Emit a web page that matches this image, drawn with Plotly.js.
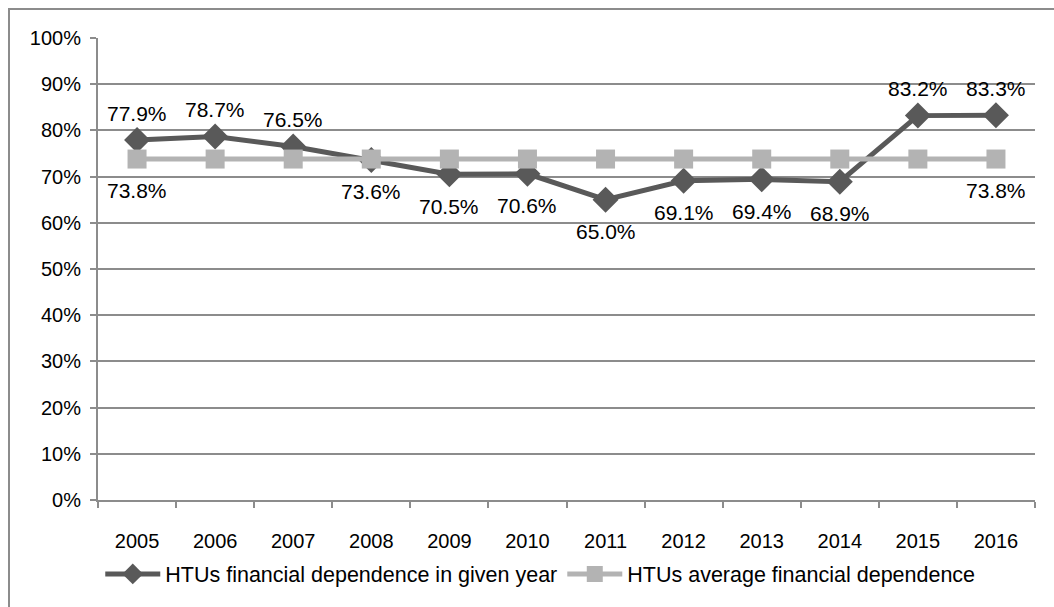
<!DOCTYPE html>
<html>
<head>
<meta charset="utf-8">
<script src="https://cdn.plot.ly/plotly-3.0.1.min.js"></script>
<style>
  html, body { margin: 0; padding: 0; background: #fff; overflow: hidden; }
  #wrap { position: relative; width: 1054px; height: 607px; }
  #frame { position: absolute; left: 8px; top: 8px; width: 1200px; height: 800px;
           border-left: 2px solid #8c8c8c; border-top: 2px solid #8c8c8c; pointer-events: none; }
  #chart { position: absolute; left: 0; top: 0; width: 1054px; height: 607px; }
</style>
</head>
<body>
<div id="wrap">
  <div id="chart"></div>
  <div id="frame"></div>
</div>
<script>
const years = ["2005","2006","2007","2008","2009","2010","2011","2012","2013","2014","2015","2016"];
const dependence = [77.9, 78.7, 76.5, 73.6, 70.5, 70.6, 65.0, 69.1, 69.4, 68.9, 83.2, 83.3];
const average = [73.8, 73.8, 73.8, 73.8, 73.8, 73.8, 73.8, 73.8, 73.8, 73.8, 73.8, 73.8];
const dependenceLabelAbove = [true, true, true, false, false, false, false, false, false, false, true, true];
const averageLabelShown = [true, false, false, false, false, false, false, false, false, false, false, true];
const yTickVals = [0,10,20,30,40,50,60,70,80,90,100];
const seriesNames = ["HTUs financial dependence in given year", "HTUs average financial dependence"];

const font = "Liberation Sans, Arial, sans-serif";

const traces = [
  {
    x: years, y: dependence, name: seriesNames[0], type: "scatter", mode: "lines+markers",
    line: {color: "#595959", width: 5},
    marker: {symbol: "diamond", size: 20, color: "#595959"},
    hoverinfo: "skip"
  },
  {
    x: years, y: average, name: seriesNames[1], type: "scatter", mode: "lines+markers",
    line: {color: "#b3b3b3", width: 5},
    marker: {symbol: "square", size: 19, color: "#b3b3b3"},
    hoverinfo: "skip"
  }
];

const annotations = [];
years.forEach((yr, i) => {
  annotations.push({
    x: i, y: dependence[i], xref: "x", yref: "y",
    text: dependence[i].toFixed(1) + "%", showarrow: false,
    yshift: dependenceLabelAbove[i] ? 27 : -32,
    font: {family: font, size: 21, color: "#000"}
  });
  if (averageLabelShown[i]) {
    annotations.push({
      x: i, y: average[i], xref: "x", yref: "y",
      text: average[i].toFixed(1) + "%", showarrow: false,
      yshift: -31,
      font: {family: font, size: 21, color: "#000"}
    });
  }
});

const layout = {
  width: 1054, height: 607,
  margin: {l: 98, r: 19, t: 38, b: 105},
  paper_bgcolor: "#fff", plot_bgcolor: "#fff",
  font: {family: font, size: 20, color: "#000"},
  showlegend: true,
  legend: {
    orientation: "h", x: 0.472, xanchor: "center", y: -0.16, yanchor: "middle",
    itemwidth: 55, font: {family: font, size: 21.5, color: "#000"},
    traceorder: "normal", itemclick: false
  },
  xaxis: {
    type: "category", categoryorder: "array", categoryarray: years,
    range: [-0.5, years.length - 0.5], autorange: false,
    tickson: "boundaries", ticks: "outside", ticklen: 6,
    tickcolor: "#8c8c8c", tickwidth: 2, tickangle: 0, ticklabelstandoff: 22,
    showline: true, linecolor: "#8c8c8c", linewidth: 2,
    showgrid: false, zeroline: false, fixedrange: true,
    tickfont: {family: font, size: 20, color: "#000"}
  },
  yaxis: {
    range: [0, 100], autorange: false, tickvals: yTickVals, ticktext: yTickVals.map(v => v + "%"),
    ticks: "outside", ticklen: 6, tickcolor: "#8c8c8c", tickwidth: 2, ticklabelstandoff: 5,
    showline: true, linecolor: "#8c8c8c", linewidth: 2,
    showgrid: true, gridcolor: "#8c8c8c", gridwidth: 2,
    zeroline: false, fixedrange: true,
    tickfont: {family: font, size: 20, color: "#000"}
  },
  annotations: annotations
};

Plotly.newPlot("chart", traces, layout, {displayModeBar: false, staticPlot: true});
</script>
</body>
</html>
